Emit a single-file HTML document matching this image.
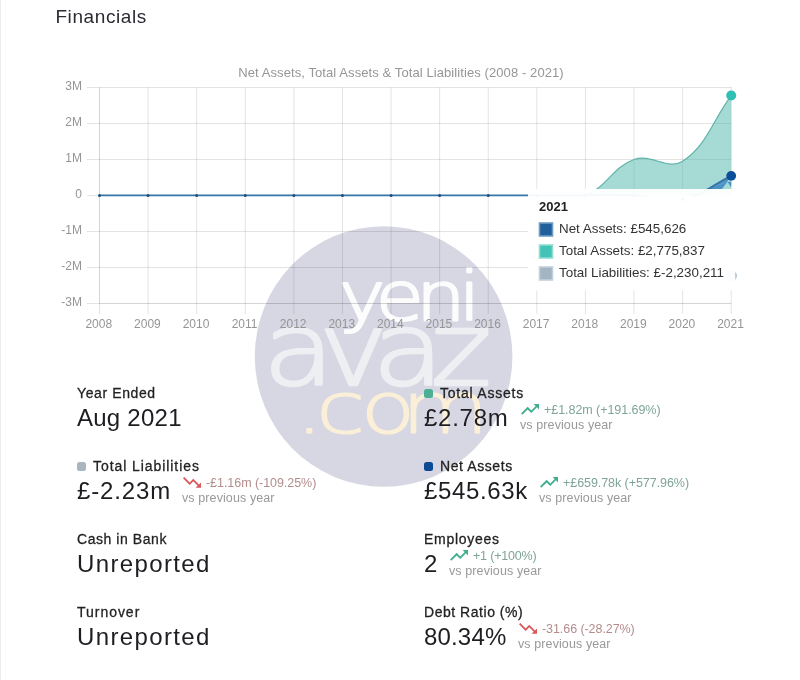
<!DOCTYPE html>
<html lang="en">
<head>
<meta charset="utf-8">
<title>Financials</title>
<style>
*{box-sizing:border-box;margin:0;padding:0}
html,body{width:800px;height:680px;overflow:hidden;background:#fff}
body{position:relative;font-family:"Liberation Sans","DejaVu Sans",sans-serif;color:#222}
.edge{position:absolute;left:0;top:0;width:1px;height:680px;background:#ececec}
.edge2{position:absolute;left:5px;top:0;width:1px;height:680px;background:#fafafa}
h2{position:absolute;left:55.4px;top:3.6px;font-size:19px;letter-spacing:0.6px;font-weight:400;color:#2b2b33;line-height:26px;white-space:nowrap}
#chart{position:absolute;left:0;top:0;width:800px;height:340px}
.stat{position:absolute;white-space:nowrap}
.lbl{position:absolute;left:0;top:0.4px;font-size:14px;line-height:18px;color:#222;-webkit-text-stroke:0.28px #222}
.val{position:absolute;left:0;top:19px;font-size:24px;line-height:32px;color:#1d1d22}
.dot{display:inline-block;width:9px;height:9px;border-radius:2.5px;margin-right:7px;position:relative;top:0px}
.chg{position:absolute;font-size:12.5px;line-height:15px}
.up{color:#7fa596}
.down{color:#b48c8c}
.vs{position:absolute;letter-spacing:0.1px;font-size:12.5px;line-height:15px;color:#999}
.ico{position:absolute;width:18px;height:10.8px}
#wm{position:absolute;left:0;top:0;width:800px;height:680px;pointer-events:none}
</style>
</head>
<body>
<div class="edge"></div><div class="edge2"></div>
<!--WM-->
<svg id="wm" viewBox="0 0 800 680">
<ellipse cx="383.6" cy="356.5" rx="128.8" ry="130.3" fill="rgba(80,84,135,0.235)"/>
<g font-family="'DejaVu Sans Light','DejaVu Sans',sans-serif" font-weight="200" stroke-linejoin="round">
<text transform="scale(1.15,1)" x="294.7 326.8 361.8 398.9" y="320" font-size="68" fill="#fff" stroke="#fff" opacity="0.95" stroke-width="2.2">yeni</text>
<text transform="scale(1.15,1)" x="228.7 277.2 323.9 374.4" y="385.5" font-size="101.5" fill="#fff" stroke="#fff" opacity="0.6" stroke-width="2.6">avaz</text>
<text transform="scale(1.25,1)" x="236.0 252.8 288.5 321.1" y="433" font-size="72" fill="#fdf1d8" stroke="#fdf1d8" opacity="0.95" stroke-width="1.2">.com</text>
</g>
</svg>
<!--/WM-->
<h2>Financials</h2>

<svg id="chart" viewBox="0 0 800 340">
<!--CHART-->
<g stroke="rgba(0,0,0,0.11)" stroke-width="1" shape-rendering="auto">
<line x1="87" y1="87.50" x2="731.20" y2="87.50"/>
<line x1="87" y1="123.50" x2="731.20" y2="123.50"/>
<line x1="87" y1="159.50" x2="731.20" y2="159.50"/>
<line x1="87" y1="195.50" x2="731.20" y2="195.50"/>
<line x1="87" y1="231.50" x2="731.20" y2="231.50"/>
<line x1="87" y1="267.50" x2="731.20" y2="267.50"/>
<line x1="87" y1="303.50" x2="731.20" y2="303.50"/>
<line x1="99.50" y1="87.50" x2="99.50" y2="314"/>
<line x1="148.09" y1="87.50" x2="148.09" y2="314"/>
<line x1="196.68" y1="87.50" x2="196.68" y2="314"/>
<line x1="245.28" y1="87.50" x2="245.28" y2="314"/>
<line x1="293.87" y1="87.50" x2="293.87" y2="314"/>
<line x1="342.46" y1="87.50" x2="342.46" y2="314"/>
<line x1="391.05" y1="87.50" x2="391.05" y2="314"/>
<line x1="439.65" y1="87.50" x2="439.65" y2="314"/>
<line x1="488.24" y1="87.50" x2="488.24" y2="314"/>
<line x1="536.83" y1="87.50" x2="536.83" y2="314"/>
<line x1="585.42" y1="87.50" x2="585.42" y2="314"/>
<line x1="634.02" y1="87.50" x2="634.02" y2="314"/>
<line x1="682.61" y1="87.50" x2="682.61" y2="314"/>
<line x1="731.20" y1="87.50" x2="731.20" y2="314"/>
</g>
<line x1="99.50" y1="303.50" x2="731.20" y2="303.50" stroke="rgba(0,0,0,0.06)"/>
<line x1="99.50" y1="87.50" x2="99.50" y2="303.50" stroke="rgba(0,0,0,0.06)"/>
<g font-family="Liberation Sans, Arial, sans-serif" font-size="12" fill="#959595">
<text x="82" y="90.40" text-anchor="end">3M</text>
<text x="82" y="126.40" text-anchor="end">2M</text>
<text x="82" y="162.40" text-anchor="end">1M</text>
<text x="82" y="198.40" text-anchor="end">0</text>
<text x="82" y="234.40" text-anchor="end">-1M</text>
<text x="82" y="270.40" text-anchor="end">-2M</text>
<text x="82" y="306.40" text-anchor="end">-3M</text>
<text x="98.80" y="328.1" text-anchor="middle">2008</text>
<text x="147.39" y="328.1" text-anchor="middle">2009</text>
<text x="195.98" y="328.1" text-anchor="middle">2010</text>
<text x="244.58" y="328.1" text-anchor="middle">2011</text>
<text x="293.17" y="328.1" text-anchor="middle">2012</text>
<text x="341.76" y="328.1" text-anchor="middle">2013</text>
<text x="390.35" y="328.1" text-anchor="middle">2014</text>
<text x="438.95" y="328.1" text-anchor="middle">2015</text>
<text x="487.54" y="328.1" text-anchor="middle">2016</text>
<text x="536.13" y="328.1" text-anchor="middle">2017</text>
<text x="584.72" y="328.1" text-anchor="middle">2018</text>
<text x="633.32" y="328.1" text-anchor="middle">2019</text>
<text x="681.91" y="328.1" text-anchor="middle">2020</text>
<text x="730.50" y="328.1" text-anchor="middle">2021</text>
</g>
<text x="401" y="77" text-anchor="middle" font-family="Liberation Sans, sans-serif" font-size="13" letter-spacing="0.09" fill="#969696">Net Assets, Total Assets &amp; Total Liabilities (2008 - 2021)</text>
<clipPath id="cp"><rect x="99.50" y="85.50" width="632.20" height="110.90"/></clipPath>
<g clip-path="url(#cp)">
<path d="M99.50,195.50 C118.94,195.50 128.66,195.50 148.09,195.50 C167.53,195.50 177.25,195.50 196.68,195.50 C216.12,195.50 225.84,195.50 245.28,195.50 C264.71,195.50 274.43,195.50 293.87,195.50 C313.31,195.50 323.02,195.50 342.46,195.50 C361.90,195.50 371.62,195.50 391.05,195.50 C410.49,195.50 420.21,195.50 439.65,195.50 C459.08,195.50 468.80,195.50 488.24,195.50 C507.68,195.50 517.39,195.53 536.83,195.50 C556.27,195.47 568.09,201.78 585.42,195.36 C606.96,187.38 612.48,167.06 634.02,159.50 C651.35,153.41 668.10,170.77 682.61,161.23 C706.98,145.20 711.76,121.83 731.20,95.56 L731.20,195.50 L99.50,195.50 Z" fill="rgba(77,182,172,0.5)"/>
<path d="M99.50,195.50 C118.94,195.50 128.66,195.50 148.09,195.50 C167.53,195.50 177.25,195.50 196.68,195.50 C216.12,195.50 225.84,195.50 245.28,195.50 C264.71,195.50 274.43,195.50 293.87,195.50 C313.31,195.50 323.02,195.50 342.46,195.50 C361.90,195.50 371.62,195.50 391.05,195.50 C410.49,195.50 420.21,195.50 439.65,195.50 C459.08,195.50 468.80,195.50 488.24,195.50 C507.68,195.50 517.39,195.53 536.83,195.50 C556.27,195.47 568.09,201.78 585.42,195.36 C606.96,187.38 612.48,167.06 634.02,159.50 C651.35,153.41 668.10,170.77 682.61,161.23 C706.98,145.20 711.76,121.83 731.20,95.56" fill="none" stroke="#5fb3a8" stroke-width="1.2"/>
<path d="M705.75,189.6 L727.5,181.75 L721.5,189.6 Z M727.5,181.75 L731.5,181.75 L731,187.2 Z" fill="#4b93c6"/>
<path d="M705.75,189.6 L727.5,181.75 L729,177 L705.75,189.6Z" fill="#4b93c6"/>
<path d="M99.50,195.50 C118.94,195.50 128.66,195.50 148.09,195.50 C167.53,195.50 177.25,195.50 196.68,195.50 C216.12,195.50 225.84,195.50 245.28,195.50 C264.71,195.50 274.43,195.50 293.87,195.50 C313.31,195.50 323.02,195.50 342.46,195.50 C361.90,195.50 371.62,195.50 391.05,195.50 C410.49,195.50 420.21,195.50 439.65,195.50 C459.08,195.50 468.80,195.50 488.24,195.50 C507.68,195.50 517.39,195.50 536.83,195.50 C556.27,195.50 565.99,195.50 585.42,195.50 C604.86,195.50 614.61,194.68 634.02,195.50 C653.49,196.32 664.18,203.33 682.61,199.60 C703.05,195.47 711.76,185.36 731.20,175.86" fill="none" stroke="#3875a6" stroke-width="2"/>
</g>
<circle cx="99.50" cy="195.50" r="1.5" fill="#1f4f80"/>
<circle cx="148.09" cy="195.50" r="1.5" fill="#1f4f80"/>
<circle cx="196.68" cy="195.50" r="1.5" fill="#1f4f80"/>
<circle cx="245.28" cy="195.50" r="1.5" fill="#1f4f80"/>
<circle cx="293.87" cy="195.50" r="1.5" fill="#1f4f80"/>
<circle cx="342.46" cy="195.50" r="1.5" fill="#1f4f80"/>
<circle cx="391.05" cy="195.50" r="1.5" fill="#1f4f80"/>
<circle cx="439.65" cy="195.50" r="1.5" fill="#1f4f80"/>
<circle cx="488.24" cy="195.50" r="1.5" fill="#1f4f80"/>
<circle cx="536.83" cy="195.50" r="1.5" fill="#1f4f80"/>
<circle cx="585.42" cy="195.50" r="1.5" fill="#1f4f80"/>
<circle cx="634.02" cy="195.50" r="1.5" fill="#1f4f80"/>
<circle cx="682.61" cy="199.60" r="1.5" fill="#1f4f80"/>
<circle cx="731.20" cy="275.78" r="5.6" fill="#9fb0c0"/>
<circle cx="731.20" cy="95.56" r="5" fill="#2fbfb3"/>
<circle cx="731.20" cy="175.86" r="4.9" fill="#0b4f9a"/>
<rect x="528" y="189" width="207.4" height="101.5" rx="4" fill="rgba(255,255,255,0.955)"/>
<g font-family="Liberation Sans, Arial, sans-serif" font-size="13.4" fill="#333">
<text x="539" y="211" font-size="13" font-weight="700" fill="#222">2021</text>
<rect x="539.5" y="223.0" width="13" height="13" fill="#1f5f9c" stroke="#6f9cc4" stroke-width="1.6"/>
<text x="559" y="233.0">Net Assets: £545,626</text>
<rect x="539.5" y="245.0" width="13" height="13" fill="#43c3b6" stroke="#8fdcd3" stroke-width="1.6"/>
<text x="559" y="255.0">Total Assets: £2,775,837</text>
<rect x="539.5" y="267.0" width="13" height="13" fill="#a3b4c3" stroke="#c3cfd9" stroke-width="1.6"/>
<text x="559" y="277.0">Total Liabilities: £-2,230,211</text>
</g>
<!--/CHART-->
</svg>

<!--STATS-->
<div class="stat" style="left:77px;top:383.3px"><div class="lbl" style="letter-spacing:0.61px"><span>Year Ended</span></div><div class="val" style="letter-spacing:0.25px"><span>Aug 2021</span></div></div>
<div class="stat" style="left:424px;top:383.3px"><div class="lbl" style="letter-spacing:0.78px"><span class="dot" style="background:#4caf93"></span><span>Total Assets</span></div><div class="val" style="letter-spacing:0.74px"><span>£2.78m</span></div><svg class="ico" style="left:97px;top:20.5px" viewBox="2 6 20 12"><path d="M16 6l2.29 2.29-4.88 4.88-4-4L2 16.59 3.41 18l6-6 4 4 6.3-6.29L22 12V6z" fill="#3fae8f"/></svg><div class="chg up" style="left:120px;top:20px;letter-spacing:-0.05px"><span>+£1.82m (+191.69%)</span></div><div class="vs" style="left:96px;top:35px">vs previous year</div></div>
<div class="stat" style="left:77px;top:456.3px"><div class="lbl" style="letter-spacing:0.93px"><span class="dot" style="background:#a9b5bf"></span><span>Total Liabilities</span></div><div class="val" style="letter-spacing:0.86px"><span>£-2.23m</span></div><svg class="ico" style="left:106px;top:20.5px" viewBox="2 6 20 12"><path d="M16 18l2.29-2.29-4.88-4.88-4 4L2 7.41 3.41 6l6 6 4-4 6.3 6.29L22 12v6z" fill="#d9575a"/></svg><div class="chg down" style="left:129px;top:20px;letter-spacing:-0.05px"><span>-£1.16m (-109.25%)</span></div><div class="vs" style="left:105px;top:35px">vs previous year</div></div>
<div class="stat" style="left:424px;top:456.3px"><div class="lbl" style="letter-spacing:0.59px"><span class="dot" style="background:#0d4a94"></span><span>Net Assets</span></div><div class="val" style="letter-spacing:0.63px"><span>£545.63k</span></div><svg class="ico" style="left:116px;top:20.5px" viewBox="2 6 20 12"><path d="M16 6l2.29 2.29-4.88 4.88-4-4L2 16.59 3.41 18l6-6 4 4 6.3-6.29L22 12V6z" fill="#3fae8f"/></svg><div class="chg up" style="left:139px;top:20px;letter-spacing:-0.06px"><span>+£659.78k (+577.96%)</span></div><div class="vs" style="left:115px;top:35px">vs previous year</div></div>
<div class="stat" style="left:77px;top:529.3px"><div class="lbl" style="letter-spacing:0.56px"><span>Cash in Bank</span></div><div class="val" style="letter-spacing:1.37px"><span>Unreported</span></div></div>
<div class="stat" style="left:424px;top:529.3px"><div class="lbl" style="letter-spacing:0.71px"><span>Employees</span></div><div class="val" style="letter-spacing:0.44px"><span>2</span></div><svg class="ico" style="left:26px;top:20.5px" viewBox="2 6 20 12"><path d="M16 6l2.29 2.29-4.88 4.88-4-4L2 16.59 3.41 18l6-6 4 4 6.3-6.29L22 12V6z" fill="#3fae8f"/></svg><div class="chg up" style="left:49px;top:20px;letter-spacing:-0.19px"><span>+1 (+100%)</span></div><div class="vs" style="left:25px;top:35px">vs previous year</div></div>
<div class="stat" style="left:77px;top:602.3px"><div class="lbl" style="letter-spacing:0.97px"><span>Turnover</span></div><div class="val" style="letter-spacing:1.37px"><span>Unreported</span></div></div>
<div class="stat" style="left:424px;top:602.3px"><div class="lbl" style="letter-spacing:0.53px"><span>Debt Ratio (%)</span></div><div class="val" style="letter-spacing:0.17px"><span>80.34%</span></div><svg class="ico" style="left:95px;top:20.5px" viewBox="2 6 20 12"><path d="M16 18l2.29-2.29-4.88-4.88-4 4L2 7.41 3.41 6l6 6 4-4 6.3 6.29L22 12v6z" fill="#d9575a"/></svg><div class="chg down" style="left:118px;top:20px;letter-spacing:-0.07px"><span>-31.66 (-28.27%)</span></div><div class="vs" style="left:94px;top:35px">vs previous year</div></div>
<!--/STATS-->

</body>
</html>
